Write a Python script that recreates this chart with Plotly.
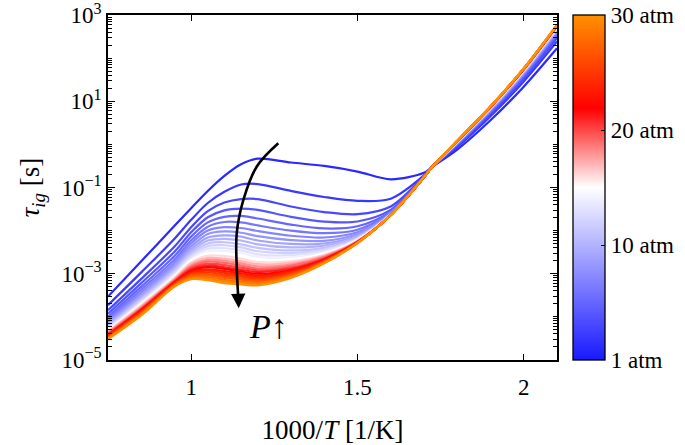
import plotly.graph_objects as go
from plotly.colors import sample_colorscale

# ---------------- data ----------------
inv_T = [0.75, 0.85, 0.95, 1.0, 1.05, 1.1, 1.15, 1.2, 1.3, 1.4, 1.5, 1.6, 1.7, 1.725, 1.8, 1.9, 2.0, 2.1]
pressure_atm = [1, 2, 3, 4, 5, 6, 7, 8, 9, 10, 11, 12, 13, 14, 15,
                16, 17, 18, 19, 20, 21, 22, 23, 24, 25, 26, 27, 28, 29, 30]

# log10 of ignition delay time [s] for each pressure, at the inv_T points
log_tau_01 = [-3.53, -2.71, -1.89, -1.48, -1.08, -0.73, -0.46, -0.33, -0.42, -0.50, -0.63, -0.81, -0.66, -0.52, -0.120, 0.560, 1.340, 2.230]
log_tau_02 = [-3.73, -2.97, -2.19, -1.75, -1.36, -1.10, -0.93, -0.92, -1.08, -1.22, -1.31, -1.26, -0.72, -0.52, -0.062, 0.653, 1.462, 2.387]
log_tau_03 = [-3.85, -3.12, -2.37, -1.92, -1.55, -1.35, -1.27, -1.27, -1.44, -1.57, -1.62, -1.44, -0.74, -0.52, -0.031, 0.702, 1.526, 2.469]
log_tau_04 = [-3.93, -3.22, -2.49, -2.04, -1.69, -1.53, -1.49, -1.52, -1.68, -1.79, -1.79, -1.52, -0.75, -0.52, -0.011, 0.734, 1.568, 2.524]
log_tau_05 = [-4.00, -3.30, -2.59, -2.14, -1.81, -1.68, -1.66, -1.72, -1.86, -1.95, -1.90, -1.56, -0.75, -0.52, 0.003, 0.757, 1.599, 2.563]
log_tau_06 = [-4.05, -3.37, -2.67, -2.23, -1.91, -1.80, -1.81, -1.88, -2.00, -2.06, -1.98, -1.58, -0.76, -0.52, 0.015, 0.776, 1.624, 2.594]
log_tau_07 = [-4.10, -3.43, -2.74, -2.30, -2.00, -1.92, -1.94, -2.01, -2.12, -2.16, -2.04, -1.60, -0.76, -0.52, 0.024, 0.790, 1.642, 2.619]
log_tau_08 = [-4.13, -3.48, -2.79, -2.37, -2.08, -2.02, -2.05, -2.13, -2.22, -2.24, -2.08, -1.61, -0.76, -0.52, 0.031, 0.802, 1.658, 2.639]
log_tau_09 = [-4.17, -3.52, -2.84, -2.43, -2.16, -2.11, -2.14, -2.23, -2.31, -2.30, -2.12, -1.62, -0.76, -0.52, 0.038, 0.812, 1.671, 2.656]
log_tau_10 = [-4.20, -3.56, -2.89, -2.48, -2.23, -2.19, -2.23, -2.32, -2.39, -2.35, -2.14, -1.62, -0.76, -0.52, 0.043, 0.821, 1.683, 2.671]
log_tau_11 = [-4.23, -3.59, -2.93, -2.53, -2.30, -2.27, -2.32, -2.40, -2.46, -2.40, -2.17, -1.63, -0.76, -0.52, 0.048, 0.829, 1.693, 2.684]
log_tau_12 = [-4.25, -3.63, -2.97, -2.58, -2.36, -2.34, -2.39, -2.48, -2.52, -2.44, -2.19, -1.63, -0.76, -0.52, 0.052, 0.835, 1.701, 2.694]
log_tau_13 = [-4.28, -3.66, -3.00, -2.62, -2.42, -2.41, -2.46, -2.55, -2.57, -2.47, -2.20, -1.63, -0.76, -0.52, 0.056, 0.841, 1.709, 2.704]
log_tau_14 = [-4.30, -3.68, -3.04, -2.66, -2.48, -2.47, -2.52, -2.61, -2.62, -2.51, -2.21, -1.63, -0.76, -0.52, 0.059, 0.846, 1.715, 2.713]
log_tau_15 = [-4.32, -3.71, -3.07, -2.70, -2.53, -2.53, -2.58, -2.67, -2.67, -2.53, -2.23, -1.63, -0.76, -0.52, 0.062, 0.851, 1.721, 2.720]
log_tau_16 = [-4.34, -3.73, -3.09, -2.74, -2.58, -2.59, -2.65, -2.73, -2.71, -2.56, -2.24, -1.64, -0.76, -0.52, 0.064, 0.854, 1.726, 2.727]
log_tau_17 = [-4.35, -3.76, -3.12, -2.77, -2.63, -2.65, -2.71, -2.78, -2.75, -2.58, -2.24, -1.64, -0.76, -0.52, 0.066, 0.858, 1.731, 2.733]
log_tau_18 = [-4.37, -3.78, -3.14, -2.81, -2.68, -2.70, -2.76, -2.83, -2.79, -2.60, -2.25, -1.64, -0.76, -0.52, 0.068, 0.861, 1.736, 2.739]
log_tau_19 = [-4.39, -3.80, -3.16, -2.84, -2.72, -2.75, -2.81, -2.88, -2.82, -2.62, -2.26, -1.64, -0.76, -0.52, 0.070, 0.864, 1.739, 2.744]
log_tau_20 = [-4.40, -3.82, -3.17, -2.87, -2.77, -2.80, -2.86, -2.92, -2.86, -2.64, -2.26, -1.64, -0.76, -0.52, 0.072, 0.867, 1.743, 2.748]
log_tau_21 = [-4.42, -3.83, -3.19, -2.90, -2.81, -2.85, -2.91, -2.96, -2.89, -2.66, -2.27, -1.64, -0.76, -0.52, 0.073, 0.869, 1.746, 2.752]
log_tau_22 = [-4.43, -3.85, -3.20, -2.93, -2.85, -2.89, -2.95, -3.00, -2.92, -2.67, -2.27, -1.64, -0.76, -0.52, 0.075, 0.871, 1.749, 2.755]
log_tau_23 = [-4.44, -3.87, -3.22, -2.96, -2.90, -2.94, -2.99, -3.04, -2.94, -2.69, -2.27, -1.64, -0.76, -0.52, 0.076, 0.873, 1.751, 2.758]
log_tau_24 = [-4.45, -3.88, -3.23, -2.99, -2.93, -2.98, -3.03, -3.08, -2.97, -2.70, -2.28, -1.64, -0.76, -0.52, 0.077, 0.875, 1.753, 2.761]
log_tau_25 = [-4.47, -3.90, -3.25, -3.01, -2.97, -3.02, -3.07, -3.12, -2.99, -2.71, -2.28, -1.64, -0.76, -0.52, 0.078, 0.876, 1.755, 2.764]
log_tau_26 = [-4.48, -3.91, -3.26, -3.04, -3.01, -3.06, -3.11, -3.15, -3.02, -2.72, -2.28, -1.64, -0.76, -0.52, 0.078, 0.877, 1.756, 2.765]
log_tau_27 = [-4.49, -3.93, -3.27, -3.06, -3.04, -3.10, -3.14, -3.18, -3.04, -2.73, -2.28, -1.64, -0.76, -0.52, 0.079, 0.878, 1.758, 2.767]
log_tau_28 = [-4.50, -3.94, -3.28, -3.09, -3.08, -3.14, -3.18, -3.21, -3.06, -2.74, -2.29, -1.64, -0.76, -0.52, 0.079, 0.879, 1.759, 2.768]
log_tau_29 = [-4.51, -3.95, -3.29, -3.11, -3.12, -3.18, -3.21, -3.24, -3.08, -2.75, -2.29, -1.64, -0.76, -0.52, 0.080, 0.880, 1.760, 2.769]
log_tau_30 = [-4.52, -3.97, -3.30, -3.13, -3.15, -3.22, -3.25, -3.27, -3.10, -2.76, -2.29, -1.64, -0.76, -0.52, 0.080, 0.880, 1.760, 2.770]

curves = [log_tau_01, log_tau_02, log_tau_03, log_tau_04, log_tau_05, log_tau_06,
          log_tau_07, log_tau_08, log_tau_09, log_tau_10, log_tau_11, log_tau_12,
          log_tau_13, log_tau_14, log_tau_15, log_tau_16, log_tau_17, log_tau_18,
          log_tau_19, log_tau_20, log_tau_21, log_tau_22, log_tau_23, log_tau_24,
          log_tau_25, log_tau_26, log_tau_27, log_tau_28, log_tau_29, log_tau_30]

colorbar_ticks = [0, 10, 20, 30]
colorbar_labels = ["1 atm", "10 atm", "20 atm", "30 atm"]
x_ticks = [1, 1.5, 2]
x_labels = ["1", "1.5", "2"]
y_ticks = [1e-5, 1e-3, 1e-1, 1e1, 1e3]
y_labels = ["10<sup>−5</sup>", "10<sup>−3</sup>", "10<sup>−1</sup>", "10<sup>1</sup>", "10<sup>3</sup>"]

# annotation arrow (increasing pressure)
arrow_x = [1.262, 1.197, 1.157, 1.137, 1.137, 1.142]
arrow_log_y = [0.025, -0.517, -1.289, -2.062, -2.835, -3.60]

# ---------------- styling ----------------
FONT = "Liberation Serif"
cscale = [[0.0, "rgb(25,25,255)"], [0.5, "rgb(255,255,255)"],
          [0.73, "rgb(255,0,0)"], [1.0, "rgb(255,145,0)"]]

fig = go.Figure()
for p, lt in zip(pressure_atm, curves):
    col = sample_colorscale(cscale, [p / 30.0])[0]
    fig.add_trace(go.Scatter(
        x=inv_T, y=[10 ** v for v in lt], mode="lines",
        line=dict(color=col, width=2.2, shape="spline", smoothing=0.9),
        hoverinfo="skip", showlegend=False))

# colorbar carrier
fig.add_trace(go.Scatter(
    x=[1.5], y=[1.0], mode="markers", showlegend=False, hoverinfo="skip",
    marker=dict(size=0, color=[15], colorscale=cscale, cmin=0, cmax=30,
                showscale=True,
                colorbar=dict(thickness=32, len=1, lenmode="fraction",
                              y=0.5, yanchor="middle", x=1.0356, xanchor="left",
                              xpad=0, ypad=0, outlinewidth=1.3, outlinecolor="black",
                              tickvals=colorbar_ticks, ticktext=colorbar_labels,
                              ticks="inside", ticklen=4, tickcolor="black",
                              ticklabeloverflow="allow",
                              tickfont=dict(family=FONT, size=23, color="black")))))

# curved arrow
fig.add_trace(go.Scatter(
    x=arrow_x, y=[10 ** v for v in arrow_log_y], mode="lines",
    line=dict(color="black", width=2.6, shape="spline"),
    hoverinfo="skip", showlegend=False))
fig.add_annotation(x=1.143, y=-3.80, xref="x", yref="y", text=" ", showarrow=True,
                   ax=-0.5, ay=-14, arrowhead=2, arrowsize=1.1, arrowwidth=2.6,
                   arrowcolor="black")
fig.add_annotation(x=1.232, y=-4.22, xref="x", yref="y", text="<i>P</i>↑",
                   showarrow=False, font=dict(family=FONT, size=34, color="black"))

axis_common = dict(showline=True, linecolor="black", linewidth=1.5, mirror="ticks",
                   ticks="inside", tickcolor="black", showgrid=False, zeroline=False,
                   ticklabeloverflow="allow",
                   tickfont=dict(family=FONT, size=23, color="black"))

fig.update_xaxes(range=[0.75, 2.1], tickvals=x_ticks, ticktext=x_labels, ticklen=6,
                 ticklabelstandoff=6,
                 title=dict(text="1000/<i>T</i> [1/K]", standoff=22,
                            font=dict(family=FONT, size=27, color="black")),
                 automargin=False, **axis_common)
fig.update_yaxes(type="log", range=[-5.003, 3.003], tickvals=y_ticks, ticktext=y_labels, ticklen=7,
                 minor=dict(ticks="inside", ticklen=4, tickcolor="black", dtick="D1", showgrid=False),
                 title=dict(text="<i>τ</i><sub><i>ig</i></sub> [s]", standoff=14,
                            font=dict(family=FONT, size=27, color="black")),
                 automargin=False, **axis_common)

fig.update_layout(width=685, height=445,
                  margin=dict(l=108, r=128, t=15, b=85, autoexpand=False),
                  paper_bgcolor="white", plot_bgcolor="white",
                  font=dict(family=FONT, color="black"))

# remove the browser's default 8 px page margin so the figure sits at the page corner
fig.write_html("out.html", config={"displayModeBar": False},
               post_script="document.body.style.margin='0px';")
